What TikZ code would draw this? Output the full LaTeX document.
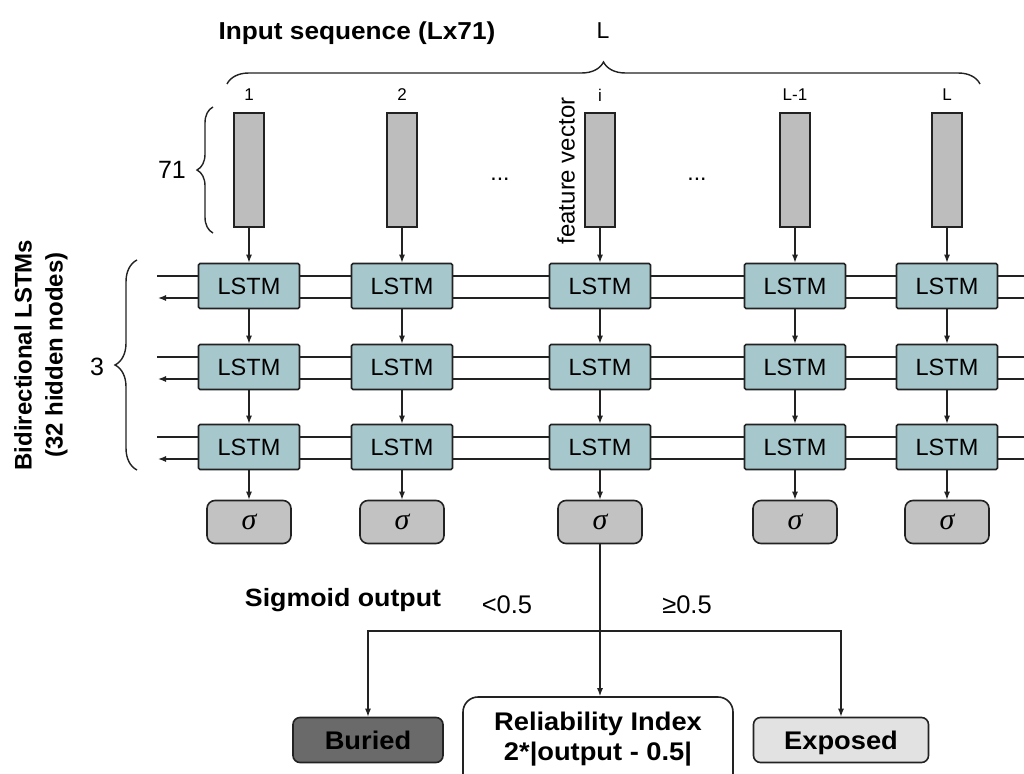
\documentclass[tikz,border=0pt]{standalone}
\usepackage{fontspec}
\setmainfont{Liberation Sans}
\newfontfamily\sigmaserif{Liberation Serif}
\newfontfamily\widebold{Liberation Sans}[FakeStretch=1.07]
\usetikzlibrary{arrows.meta,decorations.pathreplacing,calc}

\definecolor{lstmfill}{HTML}{A6C7CB}
\definecolor{barfill}{HTML}{BDBDBD}
\definecolor{sigfill}{HTML}{C2C2C2}
\definecolor{buriedfill}{HTML}{6A6A6A}
\definecolor{exposedfill}{HTML}{E2E2E2}
\definecolor{ink}{HTML}{222222}

\newcommand\setfs[1]{\fontsize{#1}{#1}\selectfont}

\tikzset{
  bar/.style={draw=ink, line width=1.6pt, fill=barfill, minimum width=30pt,
    minimum height=114pt, inner sep=0pt},
  lstm/.style={draw=ink, line width=1.6pt, fill=lstmfill, minimum width=101pt,
    minimum height=45pt, inner sep=0pt, rounded corners=1.5pt, font=\setfs{23.5}},
  sig/.style={draw=ink, line width=1.6pt, fill=sigfill, minimum width=84pt,
    minimum height=43pt, inner sep=0pt, rounded corners=8pt,
    font=\sigmaserif\itshape\setfs{30}},
  outbox/.style={draw=ink, line width=1.6pt, minimum height=45pt, inner sep=0pt,
    text height=21pt, text depth=2pt,
    rounded corners=7pt, font=\widebold\bfseries\setfs{25.5}},
  conn/.style={draw=ink, line width=1.3pt},
  arr/.style={draw=ink, line width=1.3pt, -{Latex[length=8pt,width=6pt]}},
  collab/.style={font=\setfs{17}},
  plain/.style={font=\setfs{23}},
  cmp/.style={font=\setfs{25.5}},
  title/.style={font=\widebold\bfseries\setfs{25}},
  bracket/.style={draw=ink, line width=1.4pt, decorate,
    decoration={brace, amplitude=#1}},
}

\begin{document}
\begin{tikzpicture}[x=1pt, y=-1pt]
\clip (0,0) rectangle (1024,773);
\useasboundingbox (0,0) rectangle (1024,773);
\fill[white] (0,0) rectangle (1024,773);

% recurrent connections of the three bidirectional layers (drawn under the cells)
\foreach \r/\y in {A/286, B/367, C/447} {
  \coordinate (fw\r L) at (157,\y-10);
  \coordinate (fw\r R) at (1030,\y-10);
  \coordinate (bw\r R) at (1030,\y+12);
  \coordinate (bw\r L) at (158,\y+12);
  \draw[conn] (fw\r L) -- (fw\r R);
  \draw[arr] (bw\r R) -- (bw\r L);
}

% one column per sequence position
\foreach \c/\x/\lab in {1/249/1, 2/402/2, 3/600/i, 4/795/L-1, 5/947/L} {
  \node[collab] (lab\c) at (\x,95) {\lab};
  \node[bar] (in\c) at (\x,170) {};
  \node[lstm] (a\c) at (\x,286) {LSTM};
  \node[lstm] (b\c) at (\x,367) {LSTM};
  \node[lstm] (c\c) at (\x,447) {LSTM};
  \node[sig] (s\c) at (\x,522) {σ};
  \draw[arr] (in\c) -- (a\c);
  \draw[arr] (a\c) -- (b\c);
  \draw[arr] (b\c) -- (c\c);
  \draw[arr] (c\c) -- (s\c);
}

\node[plain] (dotsA) at (500,179) {...};
\node[plain] (dotsB) at (697,179) {...};
\node[font=\setfs{24}, rotate=90] (fv) at (566,171) {feature vector};

% sequence length and feature size
\node[title, font=\widebold\bfseries\setfs{24.5}] (intitle) at (357,33) {Input sequence (Lx71)};
\coordinate (brTL) at (227,84);
\coordinate (brTR) at (980,84);
\draw[bracket=22pt] (brTL) -- (brTR);
\node[plain] (Ltop) at (603,31) {L};

\coordinate (br71b) at (213,233);
\coordinate (br71t) at (213,107);
\draw[bracket=16pt] (br71b) -- (br71t);
\node[font=\setfs{25}] (n71) at (172,170) {71};

\coordinate (br3b) at (137,470);
\coordinate (br3t) at (137,260);
\draw[bracket=22pt] (br3b) -- (br3t);
\node[font=\setfs{25}] (n3) at (97,367) {3};

\node[rotate=90, align=center, font=\bfseries\fontsize{24}{31}\selectfont]
  (layers) at (41,355) {Bidirectional LSTMs\\(32 hidden nodes)};

% thresholding of the sigmoid output
\node[title] (sigout) at (343,600) {Sigmoid output};
\node[cmp] (lt) at (507,605) {<0.5};
\node[cmp] (ge) at (687,605) {≥0.5};

\node[outbox, fill=buriedfill, minimum width=150pt] (buried) at (368,740) {Buried};
\node[outbox, fill=exposedfill, minimum width=175pt] (exposed) at (841,740) {Exposed};
\node[draw=ink, line width=1.6pt, fill=white, rounded corners=15pt,
  minimum width=270pt, minimum height=100pt] (rel) at (598,747) {};
\node[align=center, font=\widebold\bfseries\fontsize{25.5}{30}\selectfont] (reltext)
  at (598,739) {Reliability Index\\2*|output - 0.5|};

\coordinate (split) at (600,631);
\draw[arr] (s3.south) -- (s3.south |- rel.north);
\draw[arr] (split) -| (buried.north);
\draw[arr] (split) -| (exposed.north);
\end{tikzpicture}
\end{document}
